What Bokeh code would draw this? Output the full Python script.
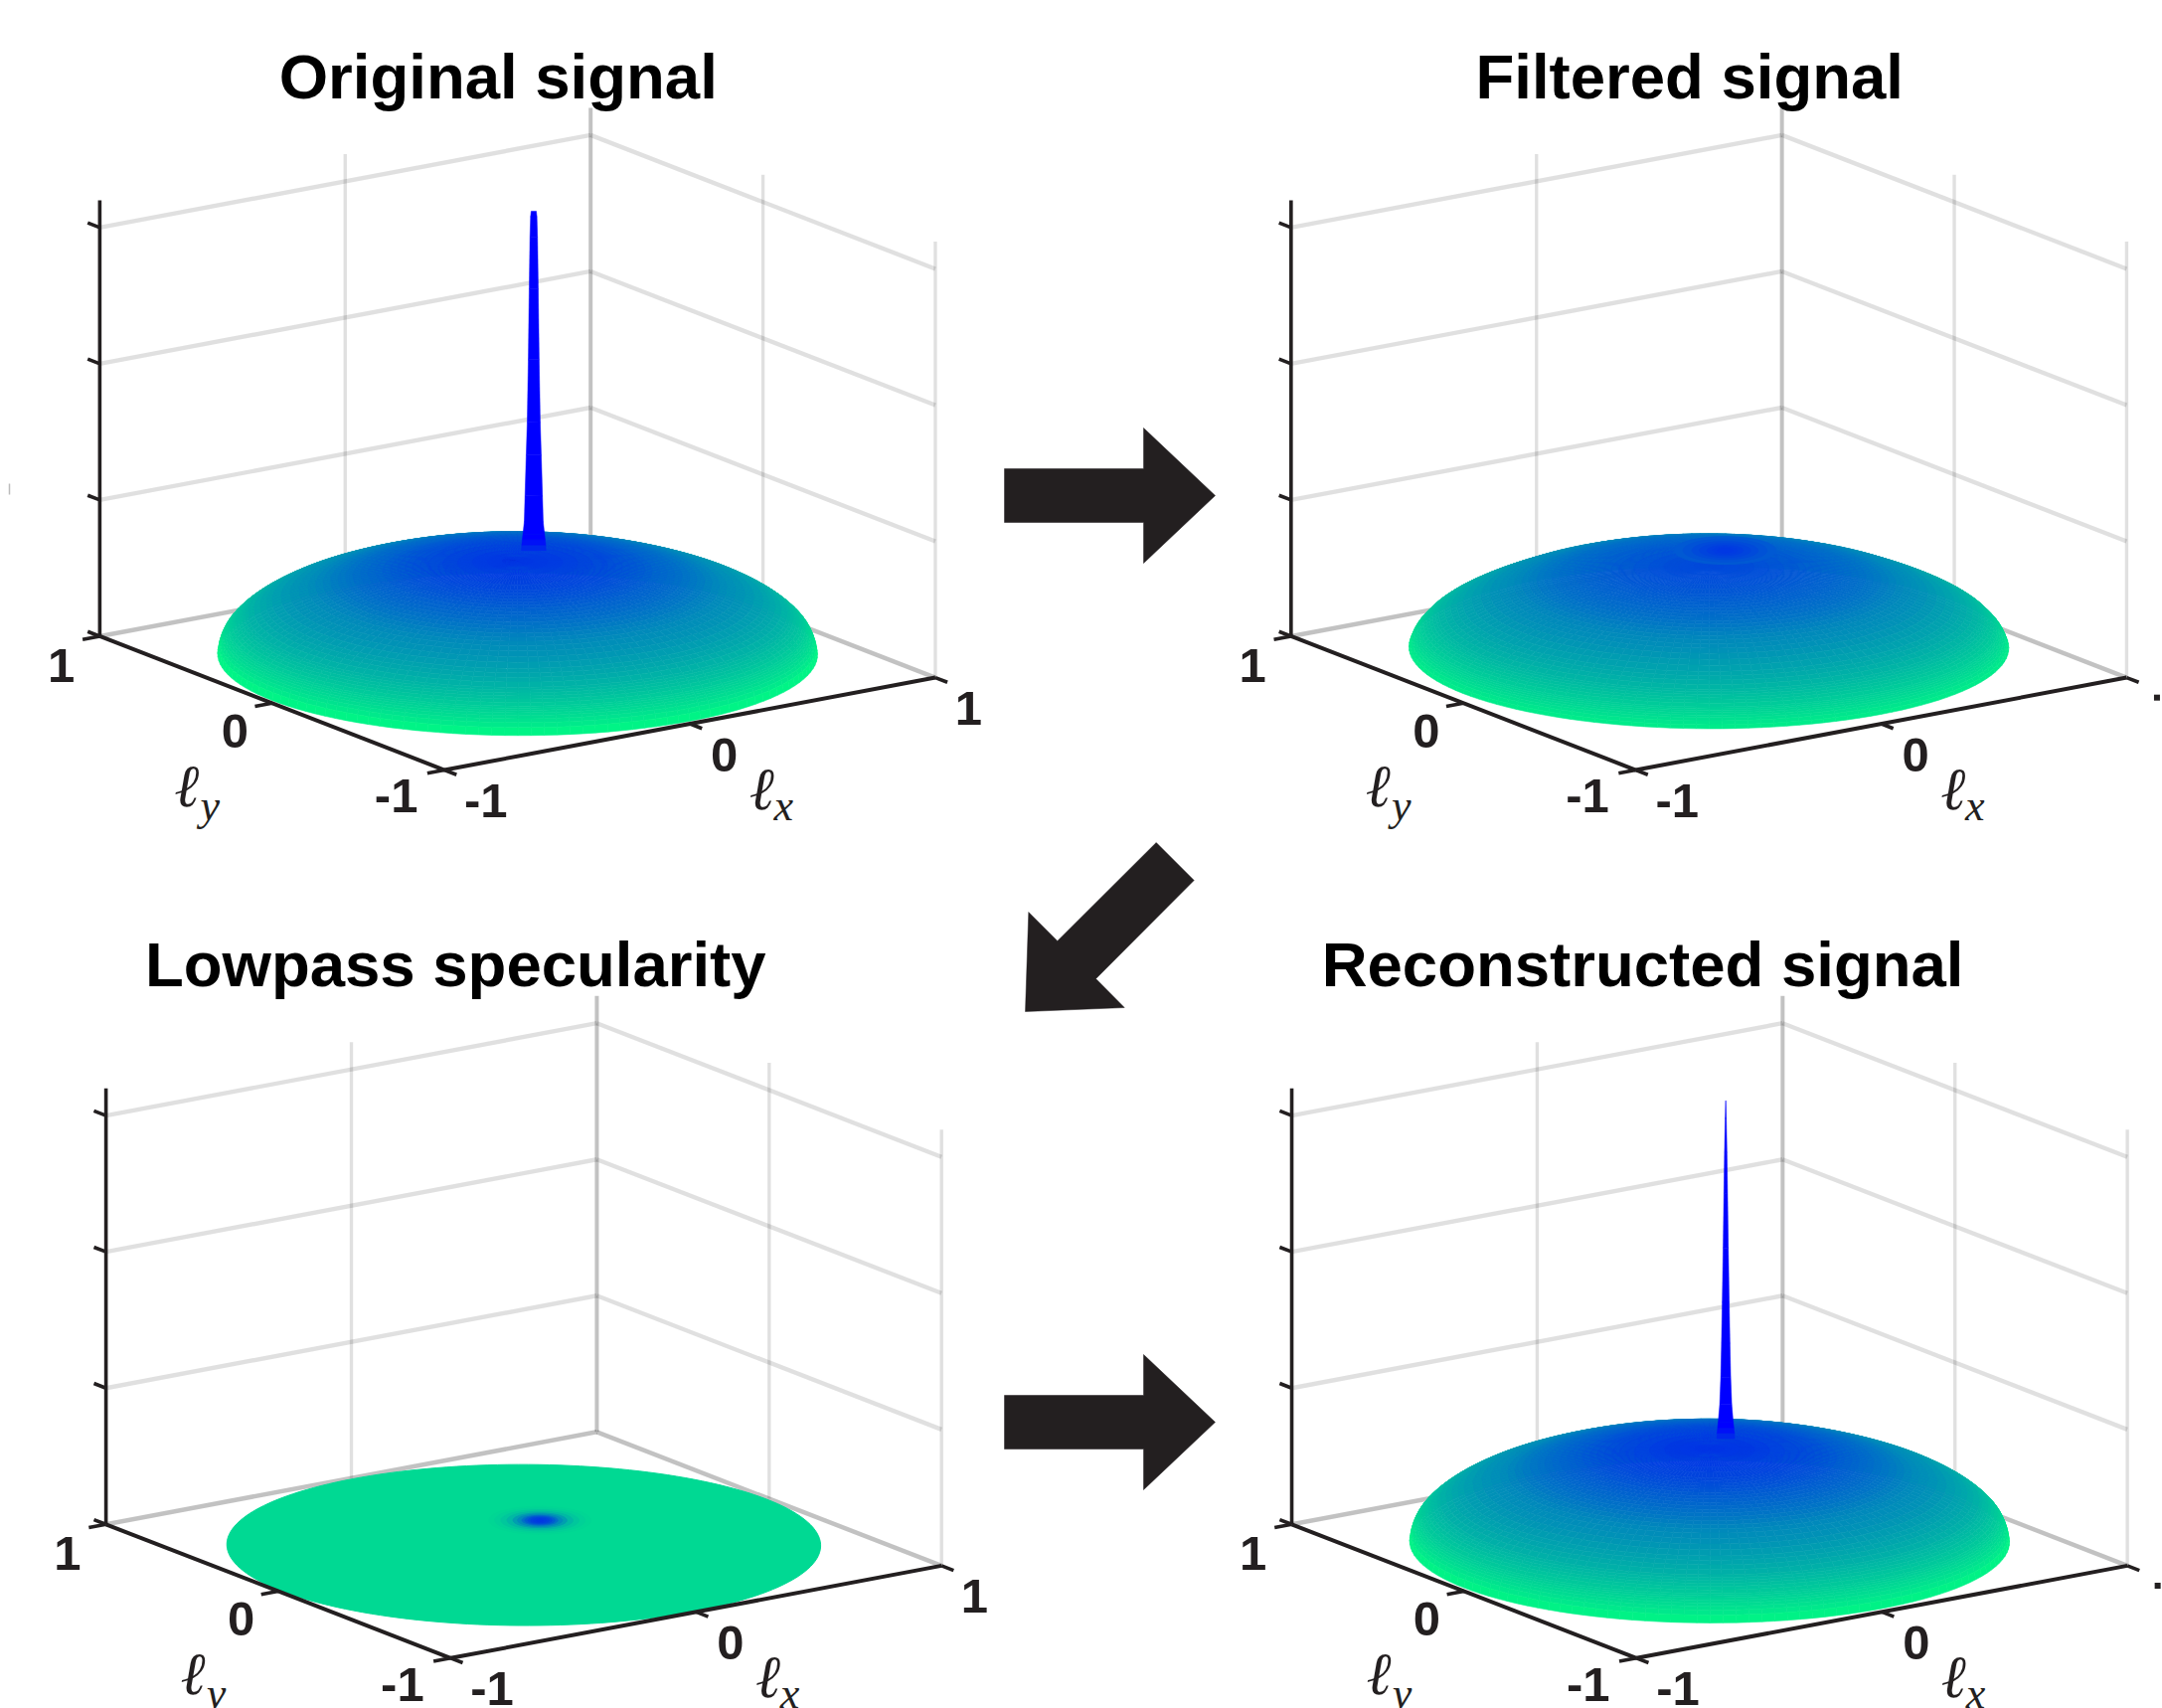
import numpy as np
from bokeh.plotting import figure
from bokeh.models import Range1d
from bokeh.core.properties import value
from bokeh.embed import file_html
from bokeh.resources import INLINE

# ---------- data ----------
titles = ["Original signal", "Filtered signal", "Lowpass specularity", "Reconstructed signal"]
z_ticks = [0, 1, 2, 3]
# radial profile of the surface (radius in l-units -> height in z ticks)
radii = [0, .05, .1, .15, .2, .25, .3, .325, .35, .375, .4, .425, .45, .475, .5, .525, .55, .575, .6, .625, .65, .675, .7, .73, .76, .79, .82, .84, .86, .88, .9, .91, .92, .93, .94, .95, .96, .965, .97, .975, .98, .985, .99, .995, 1.0]
original_z = [.70, .699, .697, .692, .686, .678, .668, .662, .656, .649, .642, .634, .625, .616, .606, .596, .585, .573, .560, .547, .532, .517, .500, .479, .456, .432, .405, .385, .363, .340, .314, .300, .285, .269, .252, .233, .212, .200, .187, .172, .155, .134, .109, .075, .02]
filtered_z = [.665, .664, .662, .658, .652, .646, .638, .633, .628, .623, .617, .611, .604, .596, .588, .578, .568, .556, .544, .530, .516, .500, .482, .462, .436, .410, .383, .364, .344, .323, .300, .288, .275, .260, .245, .228, .206, .195, .184, .172, .158, .142, .122, .096, .07]
recon_z = [.705, .704, .702, .697, .691, .683, .673, .667, .661, .654, .647, .639, .630, .621, .611, .601, .590, .578, .565, .552, .537, .522, .505, .484, .461, .437, .410, .390, .368, .345, .319, .305, .290, .274, .257, .238, .217, .205, .192, .177, .160, .139, .114, .080, .025]
# height -> colour parameter of the colormap (1 = green, 0 = blue)
color_z = [0, .34, .52, .62, .70, .82]
color_t = [1, .68, .53, .38, .22, 0]
# specular peak location on the floor
peak_u, peak_v = 0.219, 0.218
# spike: half width (l-units) against height (z ticks)
spike1_d = [.041, .04, .038, .036, .0315, .029, .025, .0216, .018, .015, .0125, .0105, .0085]
spike1_z = [.60, .64, .68, .72, .81, 1.0, 1.3, 1.54, 2.0, 2.52, 2.9, 3.05, 3.09]
spike4_d = [.03, .029, .027, .025, .02, .0165, .014, .0115, .0085, .006, .004, .0018, .0002]
spike4_z = [.60, .64, .68, .72, .85, 1.05, 1.3, 1.6, 2.0, 2.4, 2.7, 2.95, 3.08]
# filtered apex bump: radius around peak -> colour parameter
bump_d = [.17, .14, .11, .085, .06, .04, .025]
bump_t = [.35, .32, .29, .265, .245, .23, .22]
# lowpass spot: radius around peak -> colour parameter
spot_d = [.17, .15, .13, .11, .09, .075, .06, .05, .04, .03, .02, .01]
spot_t = [.84, .82, .78, .72, .62, .54, .44, .36, .30, .26, .24, .22]
disc_t = 0.85
disc_radius = 0.99

# ---------- layout (full-size pixels) ----------
S = 2175 / 1568
U = np.array([178, -33.5]) * S
V = np.array([-125, -48.5]) * S
Z = 98.8 * S
Z_TOP = 3.2
centers = [(375, 476), (1239, 476), (379.5, 1120), (1239.5, 1120)]
title_pos = [(361, 55), (1225, 55), (330, 699), (1191, 699)]
INK = "#231f20"

def project(k, u, v, z):
    cx, cy = centers[k]
    u = np.asarray(u, float); v = np.asarray(v, float); z = np.asarray(z, float)
    return cx * S + u * U[0] + v * V[0], cy * S + u * U[1] + v * V[1] - z * Z

def hexc(t):
    t = float(np.clip(t, 0, 1))
    return "#%02x%02x%02x" % (0, int(round(255 * t)), int(round(255 - 127 * t)))

def z_color(z):
    return hexc(np.interp(z, color_z, color_t))

p = figure(width=2175, height=1718, x_range=Range1d(0, 2175), y_range=Range1d(1718, 0),
           output_backend="svg", toolbar_location=None, min_border=0)
p.axis.visible = False
p.grid.visible = False
p.outline_line_color = None

def seg(k, a, b, color, width, alpha=1.0):
    x, y = project(k, [a[0], b[0]], [a[1], b[1]], [a[2], b[2]])
    p.line(x, y, line_color=color, line_width=width, line_alpha=alpha, line_cap="butt")

def walls(k):
    for z in z_ticks[1:]:
        seg(k, (-1, 1, z), (1, 1, z), "#000000", 4.4, .12)
        seg(k, (1, 1, z), (1, -1, z), "#000000", 4.4, .12)
    seg(k, (-1, 1, 0), (1, 1, 0), "#000000", 4.5, .24)
    seg(k, (1, 1, 0), (1, -1, 0), "#000000", 4.5, .24)
    seg(k, (0, 1, 0), (0, 1, Z_TOP), "#000000", 3.4, .12)
    seg(k, (1, 0, 0), (1, 0, Z_TOP), "#000000", 3.4, .12)
    seg(k, (1, -1, 0), (1, -1, Z_TOP), "#000000", 3.4, .12)
    seg(k, (1, 1, 0), (1, 1, Z_TOP), "#000000", 4, .24)

def axes(k):
    L = 0.07
    seg(k, (-1, 1, 0), (-1, 1, Z_TOP), INK, 3.6)
    seg(k, (-1, 1, 0), (-1, -1, 0), INK, 4)
    seg(k, (-1, -1, 0), (1, -1, 0), INK, 4)
    for z in z_ticks:
        seg(k, (-1, 1, z), (-1, 1 + L, z), INK, 3.6)
    seg(k, (-1, 1, 0), (-1 - L, 1, 0), INK, 3.6)
    seg(k, (-1, 0, 0), (-1 - L, 0, 0), INK, 3.6)
    seg(k, (-1, -1, 0), (-1 - L, -1, 0), INK, 3.6)
    seg(k, (-1, -1, 0), (-1, -1 - L, 0), INK, 3.6)
    seg(k, (0, -1, 0), (0, -1 - L, 0), INK, 3.6)
    seg(k, (1, -1, 0), (1, -1 - L, 0), INK, 3.6)

def labels(k):
    cx, cy = centers[k]
    offs = [(-331, 6, "1"), (-205, 54, "0"), (-88, 101, "-1"), (-23, 104, "-1"), (150, 71, "0")]
    if k in (0, 2):
        offs.append((327, 37, "1"))
    else:
        # only a fragment of this label survives at the page edge in the reference
        p.rect([(cx + 325) * S], [(cy + 29.5) * S], width=6, height=6, fill_color=INK, line_color=None)
    xs = [(cx + a) * S for a, b, c in offs]
    ys = [(cy + b) * S for a, b, c in offs]
    p.text(xs, ys, text=[c for a, b, c in offs], text_font=value("Liberation Sans"), text_font_style="bold",
           text_font_size="49px", text_color=INK, text_align="center", text_baseline="middle")
    p.text([(cx - 240) * S, (cx + 177) * S], [(cy + 94) * S, (cy + 96) * S], text=["ℓ", "ℓ"],
           text_font=value("Liberation Serif"), text_font_style="italic", text_font_size="60px",
           text_color=INK, text_align="center", text_baseline="middle")
    p.text([(cx - 223) * S, (cx + 193) * S], [(cy + 108) * S, (cy + 108) * S], text=["y", "x"],
           text_font=value("Liberation Serif"), text_font_style="italic", text_font_size="44px",
           text_color=INK, text_align="center", text_baseline="middle")

def dome(k, zs):
    r = np.array(radii); zs = np.array(zs)
    th = np.linspace(0, 2 * np.pi, 145)
    xs, ys, cols, depth = [], [], [], []
    for i in range(len(r) - 1):
        for j in range(len(th) - 1):
            ru = np.array([r[i] * np.cos(th[j]), r[i + 1] * np.cos(th[j]), r[i + 1] * np.cos(th[j + 1]), r[i] * np.cos(th[j + 1])])
            rv = np.array([r[i] * np.sin(th[j]), r[i + 1] * np.sin(th[j]), r[i + 1] * np.sin(th[j + 1]), r[i] * np.sin(th[j + 1])])
            rz = np.array([zs[i], zs[i + 1], zs[i + 1], zs[i]])
            x, y = project(k, ru, rv, rz)
            xs.append(x.tolist()); ys.append(y.tolist())
            cols.append(z_color((zs[i] + zs[i + 1]) / 2))
            depth.append(-(U[1] * ru.mean() + V[1] * rv.mean()))
    order = np.argsort(depth)[::-1]
    p.patches([xs[i] for i in order], [ys[i] for i in order], fill_color=[cols[i] for i in order],
              line_color=[cols[i] for i in order], line_width=0.6)

def spike(k, ds, zs):
    a = np.array([.818, -.575])
    s = np.array([-1, 1])
    for i in range(len(ds) - 1):
        x0, y0 = project(k, peak_u + a[0] * ds[i] * s, peak_v + a[1] * ds[i] * s, [zs[i]] * 2)
        x1, y1 = project(k, peak_u + a[0] * ds[i + 1] * s, peak_v + a[1] * ds[i + 1] * s, [zs[i + 1]] * 2)
        c = hexc(np.interp(zs[i + 1], [.6, .71], [.24, 0]))
        p.patch([x0[0], x0[1], x1[1], x1[0]], [y0[0], y0[1], y1[1], y1[0]], fill_color=c, line_color=c, line_width=.5)

def rings(k, ds, ts, z):
    th = np.linspace(0, 2 * np.pi, 49)
    for d, t in zip(ds, ts):
        x, y = project(k, peak_u + d * np.cos(th), peak_v + d * np.sin(th), np.full(th.shape, z))
        p.patch(x, y, fill_color=hexc(t), line_color=hexc(t), line_width=1)

for k in range(4):
    walls(k)

dome(0, original_z)
spike(0, spike1_d, spike1_z)
dome(1, filtered_z)
rings(1, bump_d, bump_t, 0.60)
th0 = np.linspace(0, 2 * np.pi, 181)
x0, y0 = project(2, disc_radius * np.cos(th0), disc_radius * np.sin(th0), np.zeros_like(th0))
p.patch(x0, y0, fill_color=hexc(disc_t), line_color=hexc(disc_t), line_width=1)
rings(2, spot_d, spot_t, 0.0)
dome(3, recon_z)
spike(3, spike4_d, spike4_z)

for k in range(4):
    axes(k)
    labels(k)
    p.text([title_pos[k][0] * S], [title_pos[k][1] * S], text=[titles[k]], text_font=value("Liberation Sans"),
           text_font_style="bold", text_font_size="63.5px", text_color="#000000", text_align="center", text_baseline="middle")

# small stray mark at the left edge of the reference
p.line([9, 9], [486, 497], line_color="#bbbbbb", line_width=1.5)

# arrows, vertices relative to their tips
right_arrow_x = [-212, -72, -72, 0, -72, -72, -212]
right_arrow_y = [-27, -27, -68, 0, 68, 27, 27]
for tip in [(1222, 498), (1222, 1430)]:
    p.patch([tip[0] + a for a in right_arrow_x], [tip[1] + b for b in right_arrow_y], fill_color=INK, line_color=INK, line_width=.5)
diag_x = [131.7, 169.7, 71, 99.7, 0, 3.3, 32.3]
diag_y = [-170, -132, -33, -4, 0, -100, -71]
tip = (1031, 1017)
p.patch([tip[0] + a for a in diag_x], [tip[1] + b for b in diag_y], fill_color=INK, line_color=INK, line_width=.5)

open("out.html", "w").write(file_html(p, INLINE))
